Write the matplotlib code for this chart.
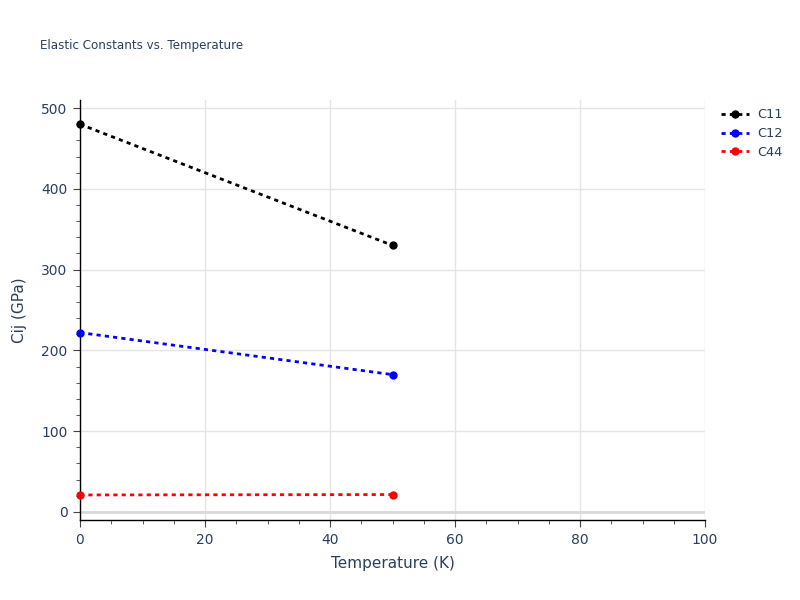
import matplotlib
matplotlib.use("Agg")
import matplotlib.pyplot as plt
from matplotlib.ticker import MultipleLocator

temperature = [0, 50]
c11 = [480, 330]
c12 = [222, 170]
c44 = [21, 21.5]

series_names = ["C11", "C12", "C44"]
series_colors = ["black", "blue", "red"]

text_color = "#2a3f5f"
grid_color = "#e5e5e5"

fig = plt.figure(figsize=(8, 6), dpi=100)
ax = fig.add_axes([80 / 800, 80 / 600, 625 / 800, 420 / 600])

for name, vals, col in zip(series_names, [c11, c12, c44], series_colors):
    ax.plot(temperature, vals, linestyle=(0, (1.5, 1.5)), linewidth=2, color=col,
            marker="o", markersize=5, label=name, clip_on=False, zorder=3)

ax.set_xlim(0, 100)
ax.set_ylim(-10, 510)
ax.xaxis.set_major_locator(MultipleLocator(20))
ax.xaxis.set_minor_locator(MultipleLocator(5))
ax.yaxis.set_major_locator(MultipleLocator(100))
ax.yaxis.set_minor_locator(MultipleLocator(20))

ax.grid(True, which="major", color=grid_color, linewidth=1)
ax.axhline(0, color="#d9d9d9", linewidth=2, zorder=1)
ax.set_axisbelow(True)

for side in ["top", "right"]:
    ax.spines[side].set_visible(False)
for side in ["left", "bottom"]:
    ax.spines[side].set_color("black")
    ax.spines[side].set_linewidth(1)

ax.tick_params(which="major", direction="out", length=5, color="#444444",
               labelcolor=text_color, labelsize=10, pad=4)
ax.tick_params(which="minor", direction="out", length=3, color="#444444")

ax.set_xlabel("Temperature (K)", color=text_color, fontsize=11, labelpad=7)
ax.set_ylabel("Cij (GPa)", color=text_color, fontsize=11, labelpad=10)

fig.text(40 / 800, 1 - 46 / 600, "Elastic Constants vs. Temperature",
         color=text_color, fontsize=8.6, va="center", ha="left")

leg = ax.legend(loc="upper left", bbox_to_anchor=(1.007, 1.008), frameon=False,
                fontsize=9.3, handlelength=2.2, handletextpad=0.6, labelspacing=0.45)
for t in leg.get_texts():
    t.set_color(text_color)

fig.savefig("out.png", dpi=100)
